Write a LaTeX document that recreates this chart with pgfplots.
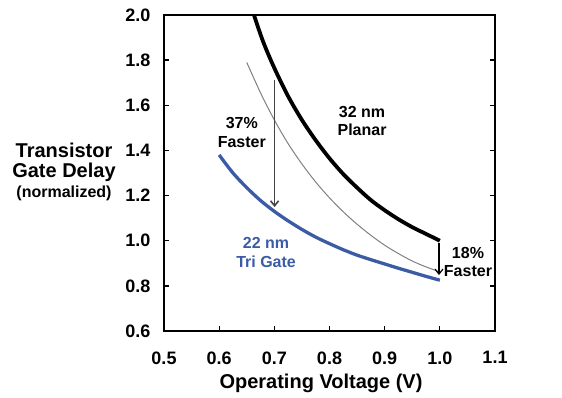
\documentclass[border=0pt]{standalone}
\usepackage{pgfplots}
\pgfplotsset{compat=1.18}
\usepackage{fontspec}
\setmainfont{Liberation Sans}
\usetikzlibrary{arrows.meta}
\definecolor{trigate}{HTML}{3B5BA5}
\definecolor{midgray}{HTML}{808080}
\definecolor{arrowgray}{HTML}{454545}
\begin{document}
\begin{tikzpicture}
\useasboundingbox (0,0) rectangle (562pt,397pt);
\begin{axis}[
  at={(164pt,66pt)}, anchor=south west,
  scale only axis, width=331pt, height=316pt,
  xmin=0.5, xmax=1.1, ymin=0.6, ymax=2.0,
  xtick={0.5,0.6,0.7,0.8,0.9,1.0,1.1},
  xticklabels={0.5,0.6,0.7,0.8,0.9,1.0,1.1},
  ytick={0.6,0.8,1.0,1.2,1.4,1.6,1.8,2.0},
  yticklabels={0.6,0.8,1.0,1.2,1.4,1.6,1.8,2.0},
  xtick pos=bottom, ytick pos=both,
  tick align=inside,
  major tick length=5pt,
  every tick/.style={black, line width=1.3pt},
  axis line style={line width=1.6pt},
  /pgf/number format/assume math mode=true,
  ticklabel style={font=\fontsize{18}{18}\selectfont\bfseries},
  xticklabel style={yshift=-17pt},
  yticklabel style={xshift=-10pt},
  clip=true,
]
% 32 nm Planar
\addplot[black, line width=3.8pt, smooth] coordinates {
 (0.663,2.00) (0.68,1.88) (0.70,1.765) (0.725,1.64) (0.75,1.535) (0.775,1.445)
 (0.80,1.365) (0.825,1.295) (0.85,1.235) (0.875,1.18) (0.90,1.135) (0.925,1.095)
 (0.95,1.06) (0.975,1.03) (1.00,1.00)};
% thin gray
\addplot[midgray, line width=1pt, smooth] coordinates {
 (0.65,1.79) (0.675,1.655) (0.70,1.535) (0.725,1.43) (0.75,1.34) (0.775,1.26)
 (0.80,1.19) (0.825,1.128) (0.85,1.073) (0.875,1.024) (0.90,0.98) (0.925,0.943)
 (0.95,0.91) (0.975,0.884) (1.00,0.862)};
% 22 nm Tri Gate
\addplot[trigate, line width=3.3pt, smooth] coordinates {
 (0.60,1.38) (0.625,1.30) (0.65,1.235) (0.675,1.178) (0.70,1.13) (0.725,1.088)
 (0.75,1.05) (0.775,1.016) (0.80,0.987) (0.825,0.96) (0.85,0.936) (0.875,0.916)
 (0.90,0.897) (0.925,0.878) (0.95,0.86) (0.975,0.842) (1.00,0.825)};
% arrows
\addplot[arrowgray, line width=1.6pt, -{Straight Barb[length=5pt,width=8pt]}] coordinates {(0.7005,1.712) (0.7005,1.149)};
\addplot[black, line width=1.2pt, -{Straight Barb[length=5pt,width=8pt]}] coordinates {(0.9985,0.99) (0.9985,0.848)};
% labels
\node[align=center, font=\fontsize{16}{19}\selectfont\bfseries] at (axis cs:0.641,1.48) {37\%\\Faster};
\node[align=center, font=\fontsize{16}{18}\selectfont\bfseries] at (axis cs:0.859,1.53) {32 nm\\Planar};
\node[align=center, text=trigate, font=\fontsize{16}{19}\selectfont\bfseries] at (axis cs:0.685,0.946) {22 nm\\Tri Gate};
\node[align=center, font=\fontsize{16}{18}\selectfont\bfseries] at (axis cs:1.051,0.906) {18\%\\Faster};
\end{axis}
\node[align=center, font=\fontsize{20}{20}\selectfont\bfseries] at (64pt,225pt) {Transistor\\Gate Delay\\{\fontsize{16}{20}\selectfont (normalized)}};
\node[font=\fontsize{20}{20}\selectfont\bfseries] at (321pt,14pt) {Operating Voltage (V)};
\end{tikzpicture}
\end{document}
